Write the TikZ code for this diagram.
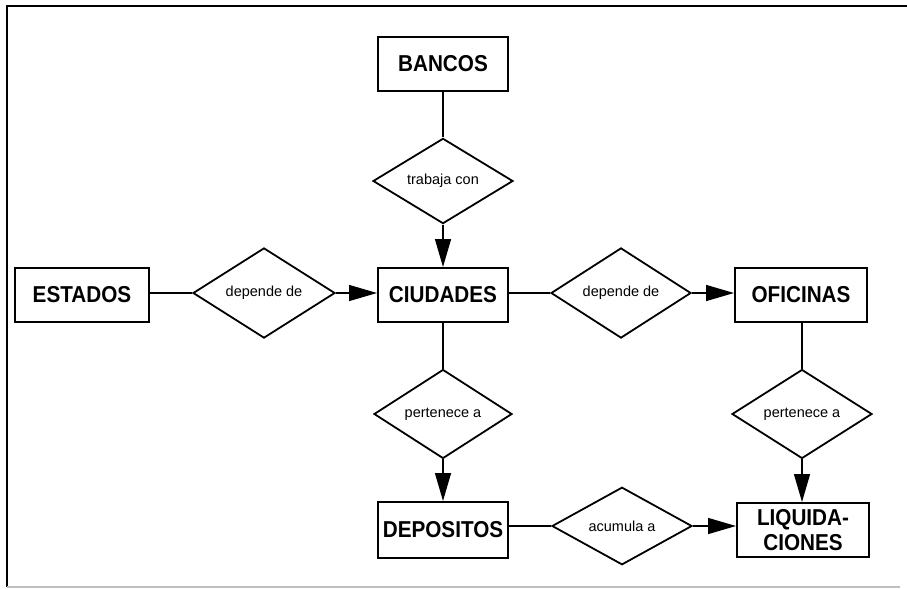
\documentclass[tikz,border=0pt]{standalone}
\usepackage{fontspec}
\setmainfont{Liberation Sans}
\newfontfamily\boxfont{Liberation Sans}[FakeStretch=0.9]
\usetikzlibrary{shapes.geometric,arrows.meta}
\begin{document}
\begin{tikzpicture}[x=1pt,y=-1pt,
  entity/.style={draw,line width=2pt,minimum width=130pt,minimum height=54pt,inner sep=0pt,
    font=\boxfont\fontsize{23}{26}\selectfont\bfseries,align=center},
  rel/.style={draw,diamond,line width=1.8pt,minimum width=140pt,minimum height=66pt,inner sep=0pt,
    font=\fontsize{14.5}{17}\selectfont},
  link/.style={line width=1.4pt},
  arr/.style={line width=1.4pt,-{Triangle[length=28pt,width=16pt]}},
  frameline/.style={line width=2pt}]
\useasboundingbox (0,0) rectangle (907,589);
% frame
\coordinate (ftl) at (7,6);
\coordinate (ftr) at (907,6);
\coordinate (fbl) at (7,587);
\coordinate (fbr) at (900,587);
\draw[frameline] (ftr) -- (ftl) -- (fbl);
\draw[frameline,black!25] (fbl) -- (fbr);
% entities
\node[entity] (bancos) at (443,64) {BANCOS};
\node[entity,minimum width=134pt] (estados) at (82,295) {ESTADOS};
\node[entity] (ciudades) at (443,295) {CIUDADES};
\node[entity,minimum width=132pt] (oficinas) at (801,295) {OFICINAS};
\node[entity,minimum height=56pt] (depositos) at (443,530) {DEPOSITOS};
\node[entity,minimum width=132pt] (liquidaciones) at (803,530) {LIQUIDA-\\[-1pt]CIONES};
% relationships
\node[rel] (trabaja) at (443,181) {trabaja con};
\node[rel,minimum width=142pt] (dependeL) at (264,293) {depende de};
\node[rel] (dependeR) at (621,293) {depende de};
\node[rel,minimum width=138pt] (perteneceL) at (443,414) {pertenece a};
\node[rel] (perteneceR) at (802,414) {pertenece a};
\node[rel] (acumula) at (622,526) {acumula a};
% connectors
\draw[link] (bancos) -- (trabaja);
\draw[arr] (trabaja) -- (ciudades);
\draw[link] (estados.east |- dependeL) -- (dependeL);
\draw[arr] (dependeL) -- (ciudades.west |- dependeL);
\draw[link] (ciudades.east |- dependeR) -- (dependeR);
\draw[arr] (dependeR) -- (oficinas.west |- dependeR);
\draw[link] (ciudades) -- (perteneceL);
\draw[arr] (perteneceL) -- (depositos);
\draw[link] (oficinas.south -| perteneceR) -- (perteneceR);
\draw[arr] (perteneceR) -- (liquidaciones.north -| perteneceR);
\draw[link] (depositos.east |- acumula) -- (acumula);
\draw[arr] (acumula) -- (liquidaciones.west |- acumula);
\end{tikzpicture}
\end{document}
